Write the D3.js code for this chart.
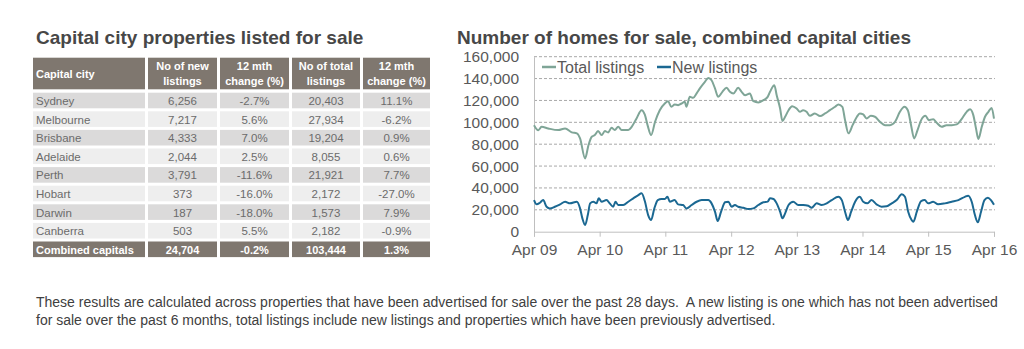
<!DOCTYPE html>
<html>
<head>
<meta charset="utf-8">
<script src="https://cdn.jsdelivr.net/npm/d3@7"></script>
<style>
  body { margin: 0; background: #fff; }
  svg { font-family: "Liberation Sans", Arial, sans-serif; display: block; }
</style>
</head>
<body>
<script>
// table data
var cities = ["Sydney", "Melbourne", "Brisbane", "Adelaide", "Perth", "Hobart", "Darwin", "Canberra"];
var newListings = ["6,256", "7,217", "4,333", "2,044", "3,791", "373", "187", "503"];
var newChange = ["-2.7%", "5.6%", "7.0%", "2.5%", "-11.6%", "-16.0%", "-18.0%", "5.5%"];
var totalListings = ["20,403", "27,934", "19,204", "8,055", "21,921", "2,172", "1,573", "2,182"];
var totalChange = ["11.1%", "-6.2%", "0.9%", "0.6%", "7.7%", "-27.0%", "7.9%", "-0.9%"];
var combined = ["Combined capitals", "24,704", "-0.2%", "103,444", "1.3%"];
var headers = [["Capital city"], ["No of new", "listings"], ["12 mth", "change (%)"], ["No of total", "listings"], ["12 mth", "change (%)"]];

// chart series (thousands)
var totalDates = ["2009-04-01","2009-04-25","2009-05-13","2009-06-19","2009-08-14","2009-09-21","2009-10-28","2009-11-25","2009-12-13","2010-01-10",
  "2010-01-29","2010-02-16","2010-03-05","2010-03-23","2010-04-12","2010-04-30","2010-05-18","2010-06-06","2010-06-24","2010-07-13",
  "2010-08-01","2010-09-07","2010-09-26","2010-10-23","2010-11-20","2010-12-08","2010-12-24","2011-01-12","2011-02-03","2011-03-01",
  "2011-03-29","2011-04-16","2011-05-05","2011-05-23","2011-06-11","2011-06-30","2011-07-18","2011-07-27","2011-08-15","2011-09-03",
  "2011-09-22","2011-10-10","2011-11-07","2011-11-26","2011-12-14","2012-01-02","2012-01-20","2012-02-12","2012-03-07","2012-03-25",
  "2012-04-13","2012-05-10","2012-05-29","2012-06-17","2012-07-14","2012-08-02","2012-08-30","2012-09-27","2012-10-21","2012-11-03",
  "2012-11-27","2012-12-10","2012-12-29","2013-01-11","2013-01-26","2013-02-14","2013-03-06","2013-03-31","2013-04-18","2013-05-06",
  "2013-05-25","2013-06-13","2013-07-10","2013-08-08","2013-09-05","2013-10-02","2013-10-31","2013-11-18","2013-12-10","2013-12-25",
  "2014-01-13","2014-02-05","2014-03-01","2014-03-17","2014-04-05","2014-04-24","2014-05-17","2014-06-09","2014-07-07","2014-08-04",
  "2014-09-01","2014-09-29","2014-10-26","2014-11-20","2014-12-09","2014-12-27","2015-01-13","2015-02-01","2015-02-21","2015-03-17",
  "2015-04-05","2015-04-29","2015-05-17","2015-06-15","2015-07-12","2015-08-10","2015-09-07","2015-10-04","2015-11-01","2015-11-20",
  "2015-12-08","2015-12-23","2016-01-05","2016-01-24","2016-02-11","2016-03-01","2016-03-19","2016-04-01"];
var totalValues = [97.4,92.8,95.9,94.4,92.9,94.4,90.8,89.9,85.3,67.0,
  79.2,86.8,88.3,92.0,88.3,92.0,90.8,95.0,93.0,95.9,
  93.0,92.9,95.9,103.6,111.1,107.0,97.0,88.3,100.5,111.1,
  117.2,119.3,114.2,116.3,115.7,117.2,118.7,114.2,123.3,122.4,
  126.4,131.0,137.0,140.6,138.5,131.0,123.3,127.9,131.5,127.9,
  126.4,131.5,127.9,124.8,126.4,119.3,118.2,120.3,123.3,127.9,
  134.0,124.8,112.7,101.1,105.1,111.1,114.8,112.7,109.6,111.1,
  109.6,105.9,108.1,105.7,108.1,111.1,114.2,116.3,114.2,102.0,
  89.9,97.4,105.1,108.1,107.2,103.6,105.9,105.1,100.5,97.4,
  97.4,100.5,109.6,114.2,111.1,97.4,85.3,92.9,102.0,105.9,
  102.0,102.9,99.9,95.9,97.4,97.4,98.1,102.9,109.6,112.0,
  106.6,94.4,84.7,95.9,105.1,109.6,113.2,103.444];

var newDates = ["2009-04-01","2009-04-16","2009-05-04","2009-05-22","2009-06-10","2009-06-28","2009-07-26","2009-08-24","2009-09-21","2009-10-18",
  "2009-11-25","2009-12-13","2009-12-26","2010-01-10","2010-01-25","2010-02-07","2010-02-25","2010-03-14","2010-03-27","2010-04-12",
  "2010-05-09","2010-05-27","2010-06-15","2010-06-28","2010-07-13","2010-08-10","2010-09-07","2010-10-05","2010-11-02","2010-11-20",
  "2010-12-08","2010-12-27","2011-01-12","2011-01-30","2011-02-18","2011-03-11","2011-03-29","2011-04-13","2011-04-26","2011-05-23",
  "2011-06-11","2011-07-09","2011-07-27","2011-08-25","2011-09-22","2011-10-20","2011-11-26","2011-12-14","2012-01-02","2012-01-17",
  "2012-02-05","2012-02-27","2012-03-16","2012-04-04","2012-04-22","2012-05-10","2012-06-08","2012-07-05","2012-08-02","2012-08-30",
  "2012-09-27","2012-10-21","2012-11-03","2012-11-22","2012-12-10","2012-12-29","2013-01-11","2013-01-26","2013-02-14","2013-03-12",
  "2013-04-09","2013-05-06","2013-06-04","2013-06-22","2013-07-20","2013-08-17","2013-09-14","2013-10-12","2013-11-18","2013-12-07",
  "2013-12-25","2014-01-10","2014-01-28","2014-02-19","2014-03-17","2014-04-05","2014-04-29","2014-05-21","2014-06-18","2014-07-16",
  "2014-08-13","2014-09-10","2014-10-08","2014-11-05","2014-11-23","2014-12-11","2014-12-30","2015-01-09","2015-01-28","2015-02-21",
  "2015-03-13","2015-04-01","2015-04-29","2015-05-26","2015-07-03","2015-08-10","2015-09-16","2015-10-22","2015-11-10","2015-11-29",
  "2015-12-17","2016-01-02","2016-01-20","2016-02-08","2016-02-27","2016-03-15","2016-04-01"];
var newValues = [28.9,25.0,26.5,28.9,22.8,21.3,22.8,25.0,27.4,25.9,
  27.4,21.3,12.2,6.1,15.2,25.9,27.4,25.9,30.5,27.4,
  28.9,25.9,22.8,27.4,24.4,24.4,27.4,30.5,33.5,35.1,
  28.0,15.0,10.7,21.3,28.9,29.9,29.9,31.9,27.4,28.9,
  25.0,24.4,21.3,24.4,27.4,28.9,28.9,25.9,18.3,9.8,
  18.3,26.9,27.4,22.8,24.4,22.8,21.9,20.7,21.3,24.4,
  26.9,27.5,30.5,29.9,25.9,18.3,12.2,16.8,24.4,27.4,
  24.4,24.4,23.7,21.9,25.9,24.4,25.9,28.9,31.9,28.9,
  18.3,10.7,18.3,27.4,31.9,27.4,25.9,28.9,25.0,22.8,
  23.2,25.9,28.9,34.2,31.9,18.3,10.7,9.1,18.3,28.0,
  28.9,25.9,27.4,25.0,25.9,27.4,28.9,31.9,32.9,27.4,
  15.2,8.6,18.3,28.9,31.0,28.9,24.704];

var yTicks = [0, 20, 40, 60, 80, 100, 120, 140, 160];
var xTickLabels = ["Apr 09", "Apr 10", "Apr 11", "Apr 12", "Apr 13", "Apr 14", "Apr 15", "Apr 16"];

var svg = d3.select("body").append("svg")
    .attr("width", 1024)
    .attr("height", 349);

// ---------- table ----------
svg.append("text")
    .attr("x", 36).attr("y", 44)
    .attr("font-size", 19).attr("font-weight", "bold")
    .attr("fill", "#474747")
    .text("Capital city properties listed for sale");

var colX = [[33, 145], [148, 217], [220, 289], [292, 360], [363, 430]];
var headTop = 57.7, headH = 31.6, rowTop = 92.7, rowPitch = 18.6, rowH = 15.6;
var headColor = "#7f776f";

colX.forEach(function(c, i) {
    svg.append("rect")
        .attr("x", c[0]).attr("y", headTop)
        .attr("width", c[1] - c[0]).attr("height", headH)
        .attr("fill", headColor);
    var lines = headers[i];
    var cx = i === 0 ? 36 : (c[0] + c[1]) / 2;
    lines.forEach(function(l, j) {
        svg.append("text")
            .attr("x", cx)
            .attr("y", headTop + headH / 2 + 4 + (lines.length === 1 ? 0.5 : (j === 0 ? -7.5 : 7.5)))
            .attr("text-anchor", i === 0 ? "start" : "middle")
            .attr("font-size", 11).attr("font-weight", "bold")
            .attr("fill", "#fff")
            .text(l);
    });
});

var rows = cities.map(function(c, i) {
    return [c, newListings[i], newChange[i], totalListings[i], totalChange[i]];
});
rows.push(combined);

rows.forEach(function(r, i) {
    var y = rowTop + i * rowPitch;
    var last = i === rows.length - 1;
    var bg = last ? headColor : (i % 2 === 0 ? "#dbdada" : "#eeeeee");
    colX.forEach(function(c, k) {
        svg.append("rect")
            .attr("x", c[0]).attr("y", y)
            .attr("width", c[1] - c[0]).attr("height", rowH)
            .attr("fill", bg);
        svg.append("text")
            .attr("x", k === 0 ? 36 : (c[0] + c[1]) / 2)
            .attr("y", y + rowH / 2 + 4.5)
            .attr("text-anchor", k === 0 ? "start" : "middle")
            .attr("font-size", last ? 11 : 11.5)
            .attr("font-weight", last ? "bold" : "normal")
            .attr("fill", last ? "#fff" : "#6b6b6b")
            .text(r[k]);
    });
});

// ---------- line chart ----------
svg.append("text")
    .attr("x", 457).attr("y", 44)
    .attr("font-size", 19).attr("font-weight", "bold")
    .attr("fill", "#474747")
    .text("Number of homes for sale, combined capital cities");

var parse = d3.timeParse("%Y-%m-%d");
var x = d3.scaleTime()
    .domain([parse("2009-04-01"), parse("2016-04-01")])
    .range([534, 994]);
var y = d3.scaleLinear()
    .domain([0, 160])
    .range([231.7, 56.7]);

var g = svg.append("g");

g.selectAll(".grid")
    .data(yTicks.slice(1))
    .enter().append("line")
    .attr("x1", 534).attr("x2", 995)
    .attr("y1", function(d) { return y(d); })
    .attr("y2", function(d) { return y(d); })
    .attr("stroke", "#a8a8a8")
    .attr("stroke-width", 1)
    .attr("stroke-dasharray", "3,2");

var yAxis = g.append("g")
    .attr("transform", "translate(534,0)")
    .call(d3.axisLeft(y).tickValues(yTicks).tickSize(0).tickPadding(15)
        .tickFormat(function(d) { return d3.format(",")(d * 1000); }));
yAxis.select(".domain").attr("stroke", "#bfbfbf");
yAxis.selectAll("text")
    .attr("font-size", 15.5).attr("fill", "#595959")
    .attr("font-family", "Liberation Sans, Arial, sans-serif");

var xTicks = xTickLabels.map(function(l, i) { return parse((2009 + i) + "-04-01"); });
var xAxis = g.append("g")
    .attr("transform", "translate(0," + y(0) + ")")
    .call(d3.axisBottom(x).tickValues(xTicks).tickSize(5).tickPadding(7)
        .tickFormat(function(d, i) { return xTickLabels[i]; }));
xAxis.select(".domain").attr("stroke", "#bfbfbf");
xAxis.selectAll("line").attr("stroke", "#bfbfbf");
xAxis.selectAll("text")
    .attr("font-size", 15.5).attr("fill", "#595959")
    .attr("font-family", "Liberation Sans, Arial, sans-serif");

var line = d3.line()
    .x(function(d) { return x(d[0]); })
    .y(function(d) { return y(d[1]); })
    .curve(d3.curveMonotoneX);

var totalSeries = totalDates.map(function(d, i) { return [parse(d), totalValues[i]]; });
var newSeries = newDates.map(function(d, i) { return [parse(d), newValues[i]]; });

var totalColor = "#7fa597", newColor = "#1b6892";

g.append("path")
    .datum(totalSeries)
    .attr("d", line)
    .attr("fill", "none")
    .attr("stroke", totalColor)
    .attr("stroke-width", 2);

g.append("path")
    .datum(newSeries)
    .attr("d", line)
    .attr("fill", "none")
    .attr("stroke", newColor)
    .attr("stroke-width", 2);

// legend
var legend = [["Total listings", totalColor, 542], ["New listings", newColor, 657]];
legend.forEach(function(l) {
    svg.append("line")
        .attr("x1", l[2]).attr("x2", l[2] + 14)
        .attr("y1", 67).attr("y2", 67)
        .attr("stroke", l[1]).attr("stroke-width", 2.5);
    svg.append("text")
        .attr("x", l[2] + 15).attr("y", 72.5)
        .attr("font-size", 16).attr("fill", "#595959")
        .text(l[0]);
});

// ---------- footnote ----------
var notes = [
    "These results are calculated across properties that have been advertised for sale over the past 28 days.  A new listing is one which has not been advertised",
    "for sale over the past 6 months, total listings include new listings and properties which have been previously advertised."
];
svg.selectAll(".note")
    .data(notes)
    .enter().append("text")
    .attr("x", 36)
    .attr("y", function(d, i) { return 307 + i * 18; })
    .attr("font-size", 14)
    .attr("fill", "#404040")
    .attr("xml:space", "preserve")
    .style("white-space", "pre")
    .text(function(d) { return d; });
</script>
</body>
</html>
